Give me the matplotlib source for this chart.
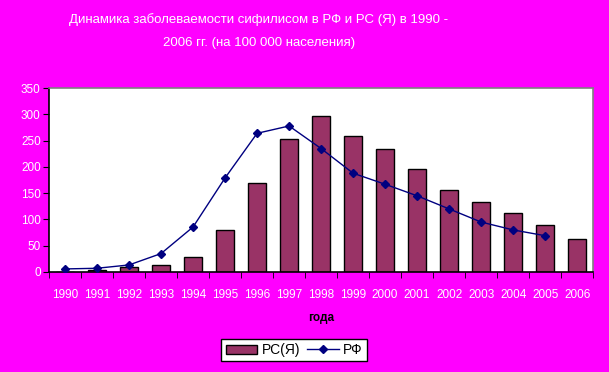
import numpy as np
import matplotlib.pyplot as plt

plt.rcParams['font.family'] = ['Liberation Sans', 'DejaVu Sans']

years = ['1990', '1991', '1992', '1993', '1994', '1995', '1996', '1997', '1998',
         '1999', '2000', '2001', '2002', '2003', '2004', '2005', '2006']
rs_ya = [0, 4, 9.5, 13, 28.5, 80, 169, 253, 297, 259, 234, 196, 156, 133, 112, 89, 63]
rf = [5.7, 7, 13.3, 35, 85.6, 179, 264, 278, 235, 188, 167, 145, 120, 95, 80, 69]

fig = plt.figure(figsize=(6.09, 3.72), dpi=100)
fig.patch.set_facecolor('#ff00ff')
ax = fig.add_axes([0.0805, 0.269, 0.8935, 0.494])
ax.set_facecolor('white')

x = np.arange(len(years))
bars = ax.bar(x, rs_ya, width=0.57, color='#993366', edgecolor='black', linewidth=1.0,
              label='РС(Я)', zorder=2)
line, = ax.plot(x[:len(rf)], rf, color='#000080', marker='D', markersize=4.5, linewidth=1.0,
                label='РФ', zorder=3)

ax.set_xlim(-0.5, len(years) - 0.5)
ax.set_ylim(0, 350)
ax.set_yticks(range(0, 351, 50))
ax.set_xticks(x)
ax.set_xticklabels(years)
ax.set_xticks(np.arange(-0.5, len(years), 1), minor=True)
ax.tick_params(axis='x', which='major', length=0, pad=12, labelsize=8.5, labelcolor='white')
ax.tick_params(axis='x', which='minor', length=4, direction='out', color='black')
ax.tick_params(axis='y', length=4, direction='out', labelsize=8.5, labelcolor='white', pad=2)

for s in ['left', 'bottom']:
    ax.spines[s].set_color('black')
    ax.spines[s].set_linewidth(1.2)
for s in ['top', 'right']:
    ax.spines[s].set_color('#808080')
    ax.spines[s].set_linewidth(1.2)

ax.set_xlabel('года', fontsize=8.5, fontweight='bold', color='black', labelpad=8)

fig.text(0.425, 0.948, 'Динамика заболеваемости сифилисом в РФ и РС (Я) в 1990 -',
         ha='center', va='center', color='white', fontsize=9.5)
fig.text(0.425, 0.885, '2006 гг. (на 100 000 населения)',
         ha='center', va='center', color='white', fontsize=9.5)

leg = fig.legend([bars, line], ['РС(Я)', 'РФ'], loc='center',
                 bbox_to_anchor=(0.483, 0.059), ncol=2, frameon=True,
                 fancybox=False, edgecolor='black', facecolor='white', framealpha=1,
                 fontsize=10, handlelength=2.3, handleheight=0.6,
                 columnspacing=0.5, handletextpad=0.3, borderpad=0.3,
                 borderaxespad=0)
leg.get_frame().set_linewidth(1.0)

fig.savefig('out.png', dpi=100, facecolor=fig.get_facecolor())
